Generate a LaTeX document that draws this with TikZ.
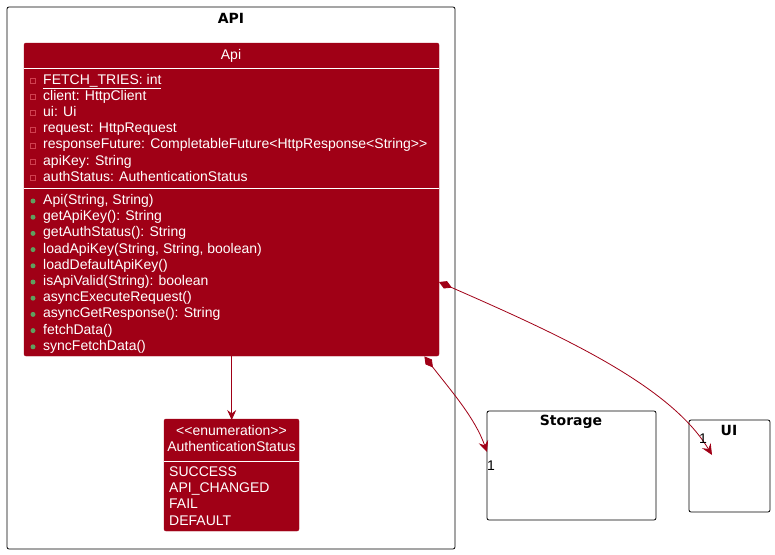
\documentclass[tikz,border=0pt]{standalone}
\usepackage{fontspec}
\setmainfont[Ligatures=NoCommon]{Liberation Sans}
\newfontfamily\pkgfont{DejaVu Sans}
\usetikzlibrary{arrows.meta,positioning}
\definecolor{umlred}{HTML}{A00016}
\definecolor{privsq}{HTML}{D04050}
\definecolor{pubdot}{HTML}{5FA05F}
\newcommand{\lt}{\symbol{60}}
\newcommand{\gt}{\symbol{62}}
\tikzset{
  pkg/.style={draw=black, line width=0.8pt, rounded corners=2pt, fill=white},
  pkgtitle/.style={font=\pkgfont\bfseries\fontsize{14}{16}\selectfont, anchor=center},
  cls/.style={fill=umlred, draw=umlred, rounded corners=2pt},
  sep/.style={draw=white, line width=0.9pt},
  txt/.style={text=white, font=\fontsize{14}{16}\selectfont, anchor=west, inner sep=0pt, text height=10pt, text depth=3pt},
  ctxt/.style={text=white, font=\fontsize{14}{16}\selectfont, anchor=center, inner sep=0pt, text height=10pt, text depth=3pt},
  lbl/.style={text=black, font=\fontsize{14}{16}\selectfont, inner sep=0pt},
  link/.style={draw=umlred, line width=0.8pt},
  arr/.style={-{Stealth[length=10pt,width=9pt,inset=3.5pt]}},
  comp/.style={{Diamond[length=14pt,width=8pt,fill=umlred]}-{Stealth[length=11pt,width=10pt,inset=4pt]}},
  privfield/.style={draw=privsq, line width=0.6pt, minimum size=5pt, inner sep=0pt},
  pubmeth/.style={circle, fill=pubdot, minimum size=5pt, inner sep=0pt}
}
\begin{document}
\begin{tikzpicture}[x=1pt,y=-1pt]
\useasboundingbox (0,0) rectangle (775,554);
% packages
\draw[pkg] (7,7) rectangle (455,549);
\node[pkgtitle] (apititle) at (231,18) {API};
\draw[pkg] (487,411) rectangle (656,520);
\node[pkgtitle] (storagetitle) at (571,422) {Storage};
\draw[pkg] (689,420) rectangle (770,512);
\node[pkgtitle] (uititle) at (729,430) {UI};
\coordinate (storagein) at (487,452);
\coordinate (uiin) at (712,455);
% Api class
\path[cls] (24,43) rectangle (439,356);
\node[draw=none, minimum width=415pt, minimum height=313pt, inner sep=0pt, anchor=north west] (api) at (24,43) {};
\node[ctxt] (apiname) at (231,56) {Api};
\draw[sep] (24,68) -- (439,68);
\draw[sep] (24,188) -- (439,188);
\foreach \t [count=\i] in {{client: HttpClient},{ui: Ui},{request: HttpRequest},{responseFuture: CompletableFuture\lt HttpResponse\lt String\gt\gt},{apiKey: String},{authStatus: AuthenticationStatus}} {
  \node[privfield] at (33,{81+16.1*\i}) {};
  \node[txt] at (43,{81+16.1*\i}) {\t};
}
\node[privfield] at (33,81) {};
\node[txt] (fetch) at (43,81) {\underline{FETCH\_TRIES: int}};
\foreach \t [count=\i from 0] in {{Api(String, String)},{getApiKey(): String},{getAuthStatus(): String},{loadApiKey(String, String, boolean)},{loadDefaultApiKey()},{isApiValid(String): boolean},{asyncExecuteRequest()},{asyncGetResponse(): String},{fetchData()},{syncFetchData()}} {
  \node[pubmeth] at (33,{201+16.2*\i}) {};
  \node[txt] at (43,{201+16.2*\i}) {\t};
}
% enum
\path[cls] (164,419) rectangle (299,531);
\node[draw=none, minimum width=135pt, minimum height=112pt, inner sep=0pt, anchor=north west] (enum) at (164,419) {};
\node[ctxt] (enumst) at (231.5,432) {\lt\lt enumeration\gt\gt};
\node[ctxt] (enumname) at (231.5,448) {AuthenticationStatus};
\draw[sep] (164,461) -- (299,461);
\foreach \t [count=\i from 0] in {SUCCESS,API\_CHANGED,FAIL,DEFAULT} {
  \node[txt] at (169,{473+16.2*\i}) {\t};
}
% connectors
\draw[link,arr] (api.south -| enum.north) -- ([yshift=-1pt]enum.north);
\draw[link,comp] (api.south east) ++(-15,0) coordinate (apisouth)
  (apisouth) .. controls (452,392) and (475,418) .. (storagein);
\coordinate (apieast) at (439,282);
\draw[link,comp] (apieast) .. controls (560,335) and (670,385) .. (uiin);
\node[lbl] (l1) at (491,466) {1};
\node[lbl] (l2) at (703,439) {1};
\end{tikzpicture}
\end{document}
